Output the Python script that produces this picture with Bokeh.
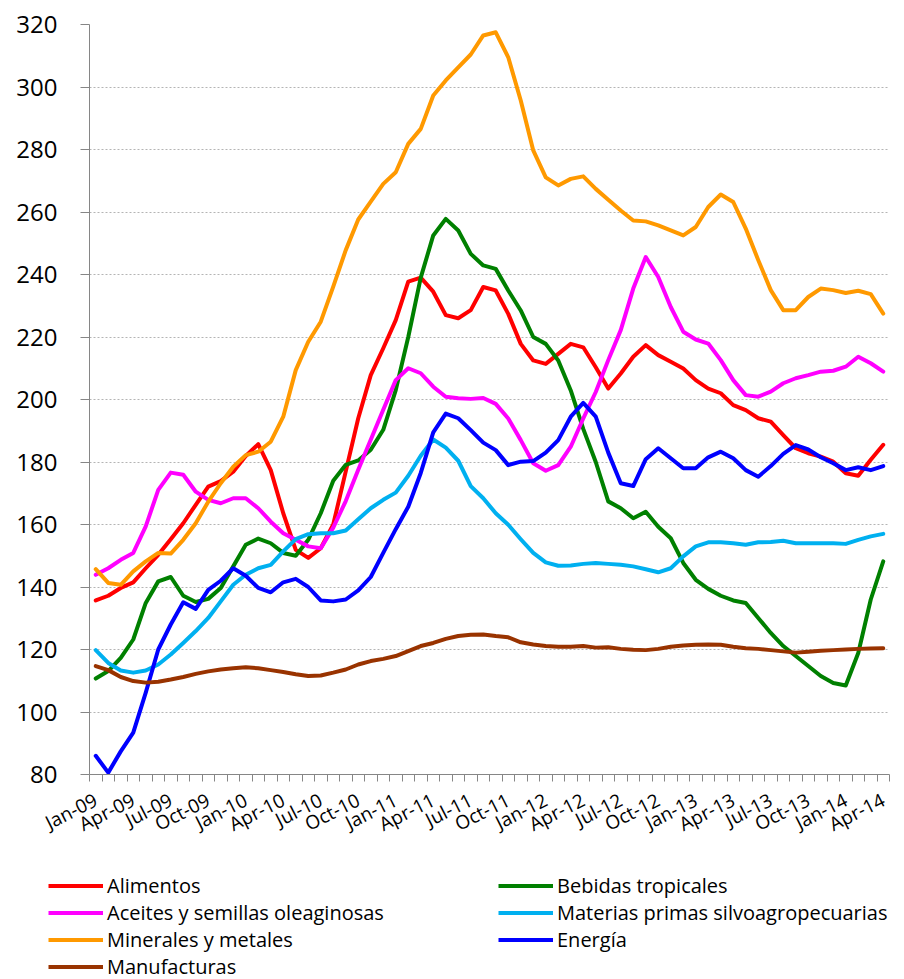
from bokeh.plotting import figure
from bokeh.models import Range1d, FixedTicker, Legend, LegendItem
from bokeh.layouts import column, row
from bokeh.embed import file_html
from bokeh.resources import INLINE

months = ["Jan-09","Feb-09","Mar-09","Apr-09","May-09","Jun-09","Jul-09","Aug-09","Sep-09","Oct-09","Nov-09","Dec-09",
          "Jan-10","Feb-10","Mar-10","Apr-10","May-10","Jun-10","Jul-10","Aug-10","Sep-10","Oct-10","Nov-10","Dec-10",
          "Jan-11","Feb-11","Mar-11","Apr-11","May-11","Jun-11","Jul-11","Aug-11","Sep-11","Oct-11","Nov-11","Dec-11",
          "Jan-12","Feb-12","Mar-12","Apr-12","May-12","Jun-12","Jul-12","Aug-12","Sep-12","Oct-12","Nov-12","Dec-12",
          "Jan-13","Feb-13","Mar-13","Apr-13","May-13","Jun-13","Jul-13","Aug-13","Sep-13","Oct-13","Nov-13","Dec-13",
          "Jan-14","Feb-14","Mar-14","Apr-14"]

alimentos = [135.7,137.2,139.7,141.5,146.0,150.3,155.3,160.4,166.3,172.1,173.9,176.9,
             181.9,185.7,177.4,163.6,151.9,149.3,152.4,160.0,177.0,194.0,207.8,216.4,
             225.4,237.7,239.0,234.5,227.0,226.0,228.6,236.0,234.9,227.4,217.8,212.5,
             211.4,214.6,217.8,216.7,210.3,203.5,208.3,213.7,217.4,214.2,212.1,209.9,
             206.2,203.5,202.0,198.2,196.6,194.0,192.9,188.6,184.4,182.8,181.7,180.1,
             176.4,175.6,180.7,185.5]

bebidas = [110.7,113.1,117.3,123.2,134.9,141.8,143.2,137.2,135.2,136.2,139.7,146.6,
           153.5,155.5,154.0,150.9,150.0,155.1,163.6,174.0,179.1,180.5,183.9,190.3,
           203.0,220.0,239.0,252.5,257.8,254.1,246.6,242.9,241.8,234.9,228.5,220.0,
           217.8,212.5,202.9,190.6,180.0,167.4,165.2,162.0,164.1,159.3,155.6,147.7,
           142.3,139.4,137.2,135.7,134.9,130.1,125.3,121.1,117.9,114.7,111.5,109.3,
           108.5,118.9,136.0,148.2]

aceites = [143.9,146.0,148.7,150.9,159.4,171.1,176.6,175.9,170.5,167.9,166.8,168.4,
           168.4,165.2,160.9,157.2,155.1,153.0,152.4,159.0,167.5,177.5,187.1,196.7,
           206.2,210.0,208.4,204.1,200.9,200.4,200.2,200.5,198.6,193.9,187.0,179.6,
           177.2,179.0,184.9,193.9,202.4,212.6,222.2,235.5,245.6,239.2,229.6,221.7,
           219.2,217.9,212.6,206.2,201.4,200.9,202.5,205.2,206.8,207.8,208.9,209.2,
           210.5,213.7,211.6,208.9]

materias = [119.8,115.7,113.3,112.6,113.3,115.2,118.4,122.1,125.9,130.1,135.4,140.7,
            143.9,146.0,147.1,151.4,155.3,156.9,157.2,157.2,158.1,161.7,165.2,167.9,
            170.2,175.6,182.0,187.2,184.6,180.4,172.3,168.4,163.6,159.9,155.3,150.9,
            147.9,146.8,146.9,147.4,147.7,147.4,147.1,146.6,145.7,144.7,146.0,149.8,
            153.0,154.3,154.3,154.0,153.5,154.3,154.4,154.8,154.0,154.0,154.0,154.0,
            153.8,155.1,156.2,157.0]

minerales = [145.7,141.3,140.7,145.0,148.2,150.9,150.7,155.1,160.4,167.3,173.2,178.5,
             182.2,183.3,186.5,194.5,209.4,218.5,224.9,236.1,247.8,257.6,263.3,269.0,
             272.7,281.8,286.6,297.3,302.1,306.3,310.4,316.5,317.5,309.5,295.7,279.7,
             271.1,268.5,270.6,271.4,267.4,263.9,260.5,257.3,257.0,255.7,254.1,252.5,
             255.2,261.6,265.6,263.2,254.7,244.6,235.0,228.6,228.6,232.8,235.5,235.0,
             234.1,234.8,233.7,227.5]

energia = [86.0,80.6,87.4,93.4,106.2,120.0,128.0,135.1,133.0,139.1,142.0,146.0,
           143.6,139.7,138.3,141.5,142.6,140.0,135.7,135.4,136.0,138.9,143.2,150.9,
           158.5,165.7,176.5,189.5,195.5,194.0,190.2,186.2,183.8,179.0,180.1,180.3,
           183.0,187.0,194.5,198.9,194.5,183.0,173.2,172.3,180.9,184.4,181.2,178.0,
           178.0,181.5,183.3,181.2,177.4,175.3,178.7,182.6,185.4,184.0,181.5,179.6,
           177.4,178.3,177.4,178.7]

manufacturas = [114.7,113.4,111.2,109.9,109.4,109.7,110.4,111.2,112.2,113.0,113.6,114.0,
                114.3,114.0,113.4,112.8,112.1,111.5,111.7,112.6,113.6,115.2,116.3,117.0,
                117.9,119.5,121.1,122.1,123.4,124.3,124.7,124.8,124.3,123.9,122.3,121.6,
                121.1,120.9,120.9,121.1,120.6,120.7,120.2,119.9,119.8,120.2,120.9,121.3,
                121.5,121.6,121.5,120.9,120.4,120.2,119.8,119.4,119.0,119.3,119.6,119.8,
                120.0,120.2,120.3,120.4]

y_ticks = [80, 100, 120, 140, 160, 180, 200, 220, 240, 260, 280, 300, 320]
label_every = 3

series = [
    ("Alimentos", alimentos, "#FF0000"),
    ("Bebidas tropicales", bebidas, "#008000"),
    ("Aceites y semillas oleaginosas", aceites, "#FF00FF"),
    ("Materias primas silvoagropecuarias", materias, "#00B0F0"),
    ("Minerales y metales", minerales, "#FF9900"),
    ("Energía", energia, "#0000FF"),
    ("Manufacturas", manufacturas, "#993300"),
]

FONT = "Open Sans"
W = 904
H1 = 858
H2 = 121
FL, FT, FR, FB = 89, 24, 889, 774  # frame edges in figure px

p = figure(width=W, height=H1, output_backend="svg", toolbar_location=None,
           x_range=Range1d(-0.5, len(months) - 0.5), y_range=Range1d(80, 320),
           min_border_left=FL, min_border_right=W - FR, min_border_top=FT,
           min_border_bottom=H1 - FB)
p.outline_line_color = None
p.background_fill_color = "white"
p.border_fill_color = "white"

x = list(range(len(months)))
for name, vals, col in series:
    p.line(x, vals, line_color=col, line_width=4, line_join="round", line_cap="round")

# grid
p.xgrid.grid_line_color = None
p.ygrid.grid_line_color = "#B4B4B4"
p.ygrid.grid_line_dash = "2 2"
p.ygrid.grid_line_width = 1

# y axis
p.yaxis.ticker = FixedTicker(ticks=y_ticks)
p.yaxis.axis_line_color = "#868686"
p.yaxis.major_tick_line_color = "#868686"
p.yaxis.major_tick_out = 9
p.yaxis.major_tick_in = 0
p.yaxis.minor_tick_line_color = None
p.yaxis.major_label_text_font = FONT
p.yaxis.major_label_text_font_size = "24px"
p.yaxis.major_label_text_color = "black"
p.yaxis.major_label_standoff = 23

# x axis
label_pos = x[::label_every]
minor = [i - 0.5 for i in x] + [x[-1] + 0.5]
p.xaxis.ticker = FixedTicker(ticks=label_pos, minor_ticks=minor)
p.xaxis.major_label_overrides = {i: months[i] for i in label_pos}
p.xaxis.axis_line_color = "#868686"
p.xaxis.major_tick_line_color = None
p.xaxis.major_tick_out = 0
p.xaxis.major_tick_in = 0
p.xaxis.minor_tick_line_color = "#868686"
p.xaxis.minor_tick_out = 7
p.xaxis.minor_tick_in = 0
p.xaxis.major_label_orientation = 0.47
p.xaxis.major_label_text_font = FONT
p.xaxis.major_label_text_font_size = "19px"
p.xaxis.major_label_text_color = "black"
p.xaxis.major_label_standoff = 17

# legend strip below (same series, off-range in this strip so only the legend shows)
p2 = figure(width=W, height=H2, output_backend="svg", toolbar_location=None,
            x_axis_type=None, y_axis_type=None,
            x_range=Range1d(0, 1), y_range=Range1d(0, 1),
            min_border=0, min_border_left=0, min_border_right=0,
            min_border_top=0, min_border_bottom=0)
p2.outline_line_color = None
p2.background_fill_color = "white"
p2.border_fill_color = "white"
p2.xgrid.grid_line_color = None
p2.ygrid.grid_line_color = None

leg_r = {}
for name, vals, col in series:
    leg_r[name] = p2.line(x, vals, line_color=col, line_width=4)

col1 = ["Alimentos", "Aceites y semillas oleaginosas", "Minerales y metales", "Manufacturas"]
col2 = ["Bebidas tropicales", "Materias primas silvoagropecuarias", "Energía"]

ROW_H = 27
TOP = 14

def make_legend(names, xpos):
    h = ROW_H * len(names)
    lg = Legend(items=[LegendItem(label=n, renderers=[leg_r[n]]) for n in names],
                location=(xpos, H2 - TOP - h), orientation="vertical")
    lg.glyph_width = 55
    lg.glyph_height = ROW_H
    lg.label_height = ROW_H
    lg.label_standoff = 4
    lg.spacing = 0
    lg.padding = 0
    lg.margin = 0
    lg.border_line_color = None
    lg.background_fill_alpha = 0
    lg.label_text_font = FONT
    lg.label_text_font_size = "20px"
    lg.label_text_color = "black"
    lg.label_text_baseline = "middle"
    return lg

p2.add_layout(make_legend(col1, 48), "center")
p2.add_layout(make_legend(col2, 498), "center")

layout = column(p, row(p2, spacing=0), spacing=0)
open("out.html", "w").write(file_html(layout, INLINE))
